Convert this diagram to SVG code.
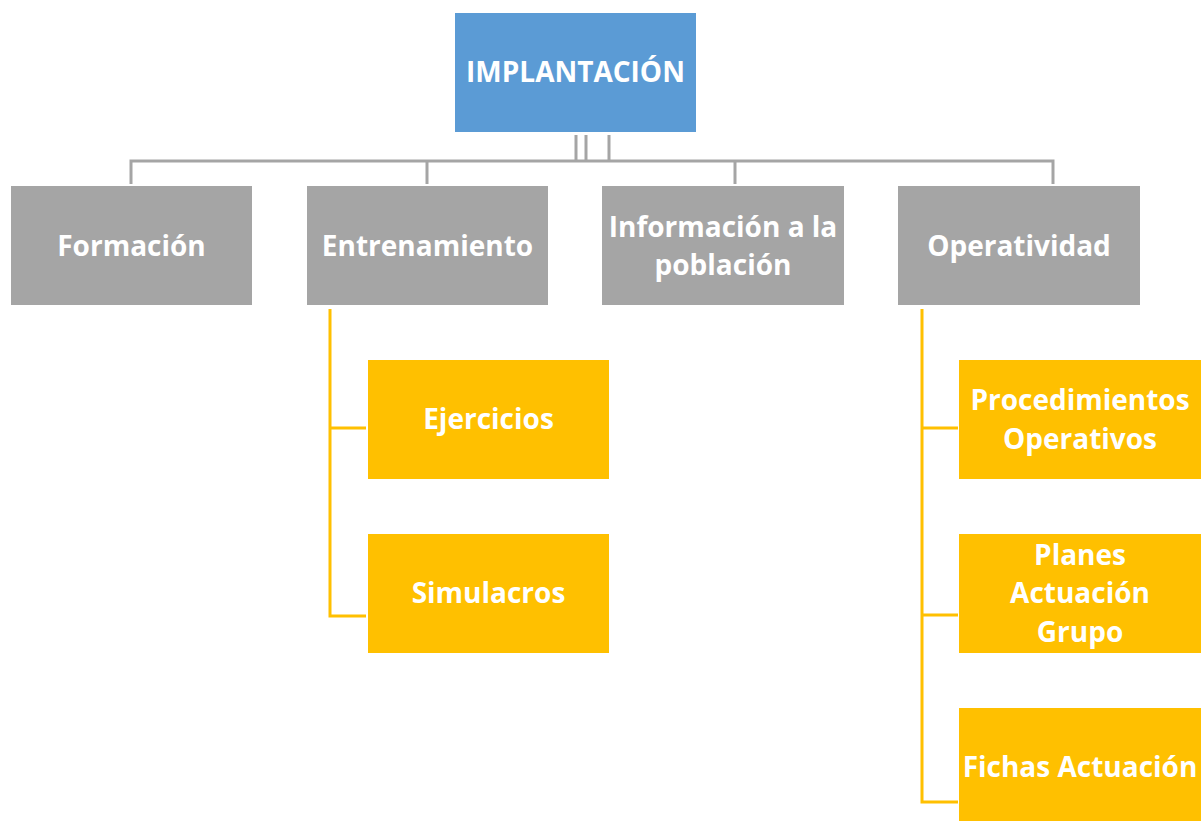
<svg xmlns="http://www.w3.org/2000/svg" width="1201" height="821" viewBox="0 0 1201 821">
<style>
.t{font-family:"Open Sans","Lato","Liberation Sans",sans-serif;font-weight:bold;font-size:28px;fill:#fff;text-anchor:middle}
.g{fill:#A5A5A5}
.y{fill:#FFC000}
.cg{stroke:#A5A5A5;stroke-width:3;fill:none}
.cy{stroke:#FFC000;stroke-width:3;fill:none}
</style>
<rect width="1201" height="821" fill="#fff"/>
<g id="connectors">
<path class="cg" d="M576 135V161M586 135V161M609 135V161M131 184V161H1053V184M427 161V184M735 161V184"/>
<path class="cy" d="M330 309V616H366M330 428H366"/>
<path class="cy" d="M922 309V802H958M922 428H958M922 615H958"/>
</g>
<g id="n-implantacion"><rect x="455" y="13" width="241" height="119" fill="#5B9BD5"/><text class="t" x="575.5" y="82">IMPLANTACIÓN</text></g>
<g id="n-formacion"><rect class="g" x="11" y="186" width="241" height="119"/><text class="t" x="131.5" y="256">Formación</text></g>
<g id="n-entrenamiento"><rect class="g" x="307" y="186" width="241" height="119"/><text class="t" x="427.5" y="256">Entrenamiento</text></g>
<g id="n-informacion"><rect class="g" x="602" y="186" width="242" height="119"/><text class="t" x="723" y="237">Información a la</text><text class="t" x="723" y="275">población</text></g>
<g id="n-operatividad"><rect class="g" x="898" y="186" width="242" height="119"/><text class="t" x="1019" y="256">Operatividad</text></g>
<g id="n-ejercicios"><rect class="y" x="368" y="360" width="241" height="119"/><text class="t" x="488.5" y="429">Ejercicios</text></g>
<g id="n-simulacros"><rect class="y" x="368" y="534" width="241" height="119"/><text class="t" x="488.5" y="603">Simulacros</text></g>
<g id="n-procedimientos"><rect class="y" x="959" y="360" width="242" height="119"/><text class="t" x="1080" y="410">Procedimientos</text><text class="t" x="1080" y="449">Operativos</text></g>
<g id="n-planes"><rect class="y" x="959" y="534" width="242" height="119"/><text class="t" x="1080" y="565">Planes</text><text class="t" x="1080" y="603">Actuación</text><text class="t" x="1080" y="642">Grupo</text></g>
<g id="n-fichas"><rect class="y" x="959" y="708" width="242" height="119"/><text class="t" x="1080" y="777">Fichas Actuación</text></g>
</svg>
